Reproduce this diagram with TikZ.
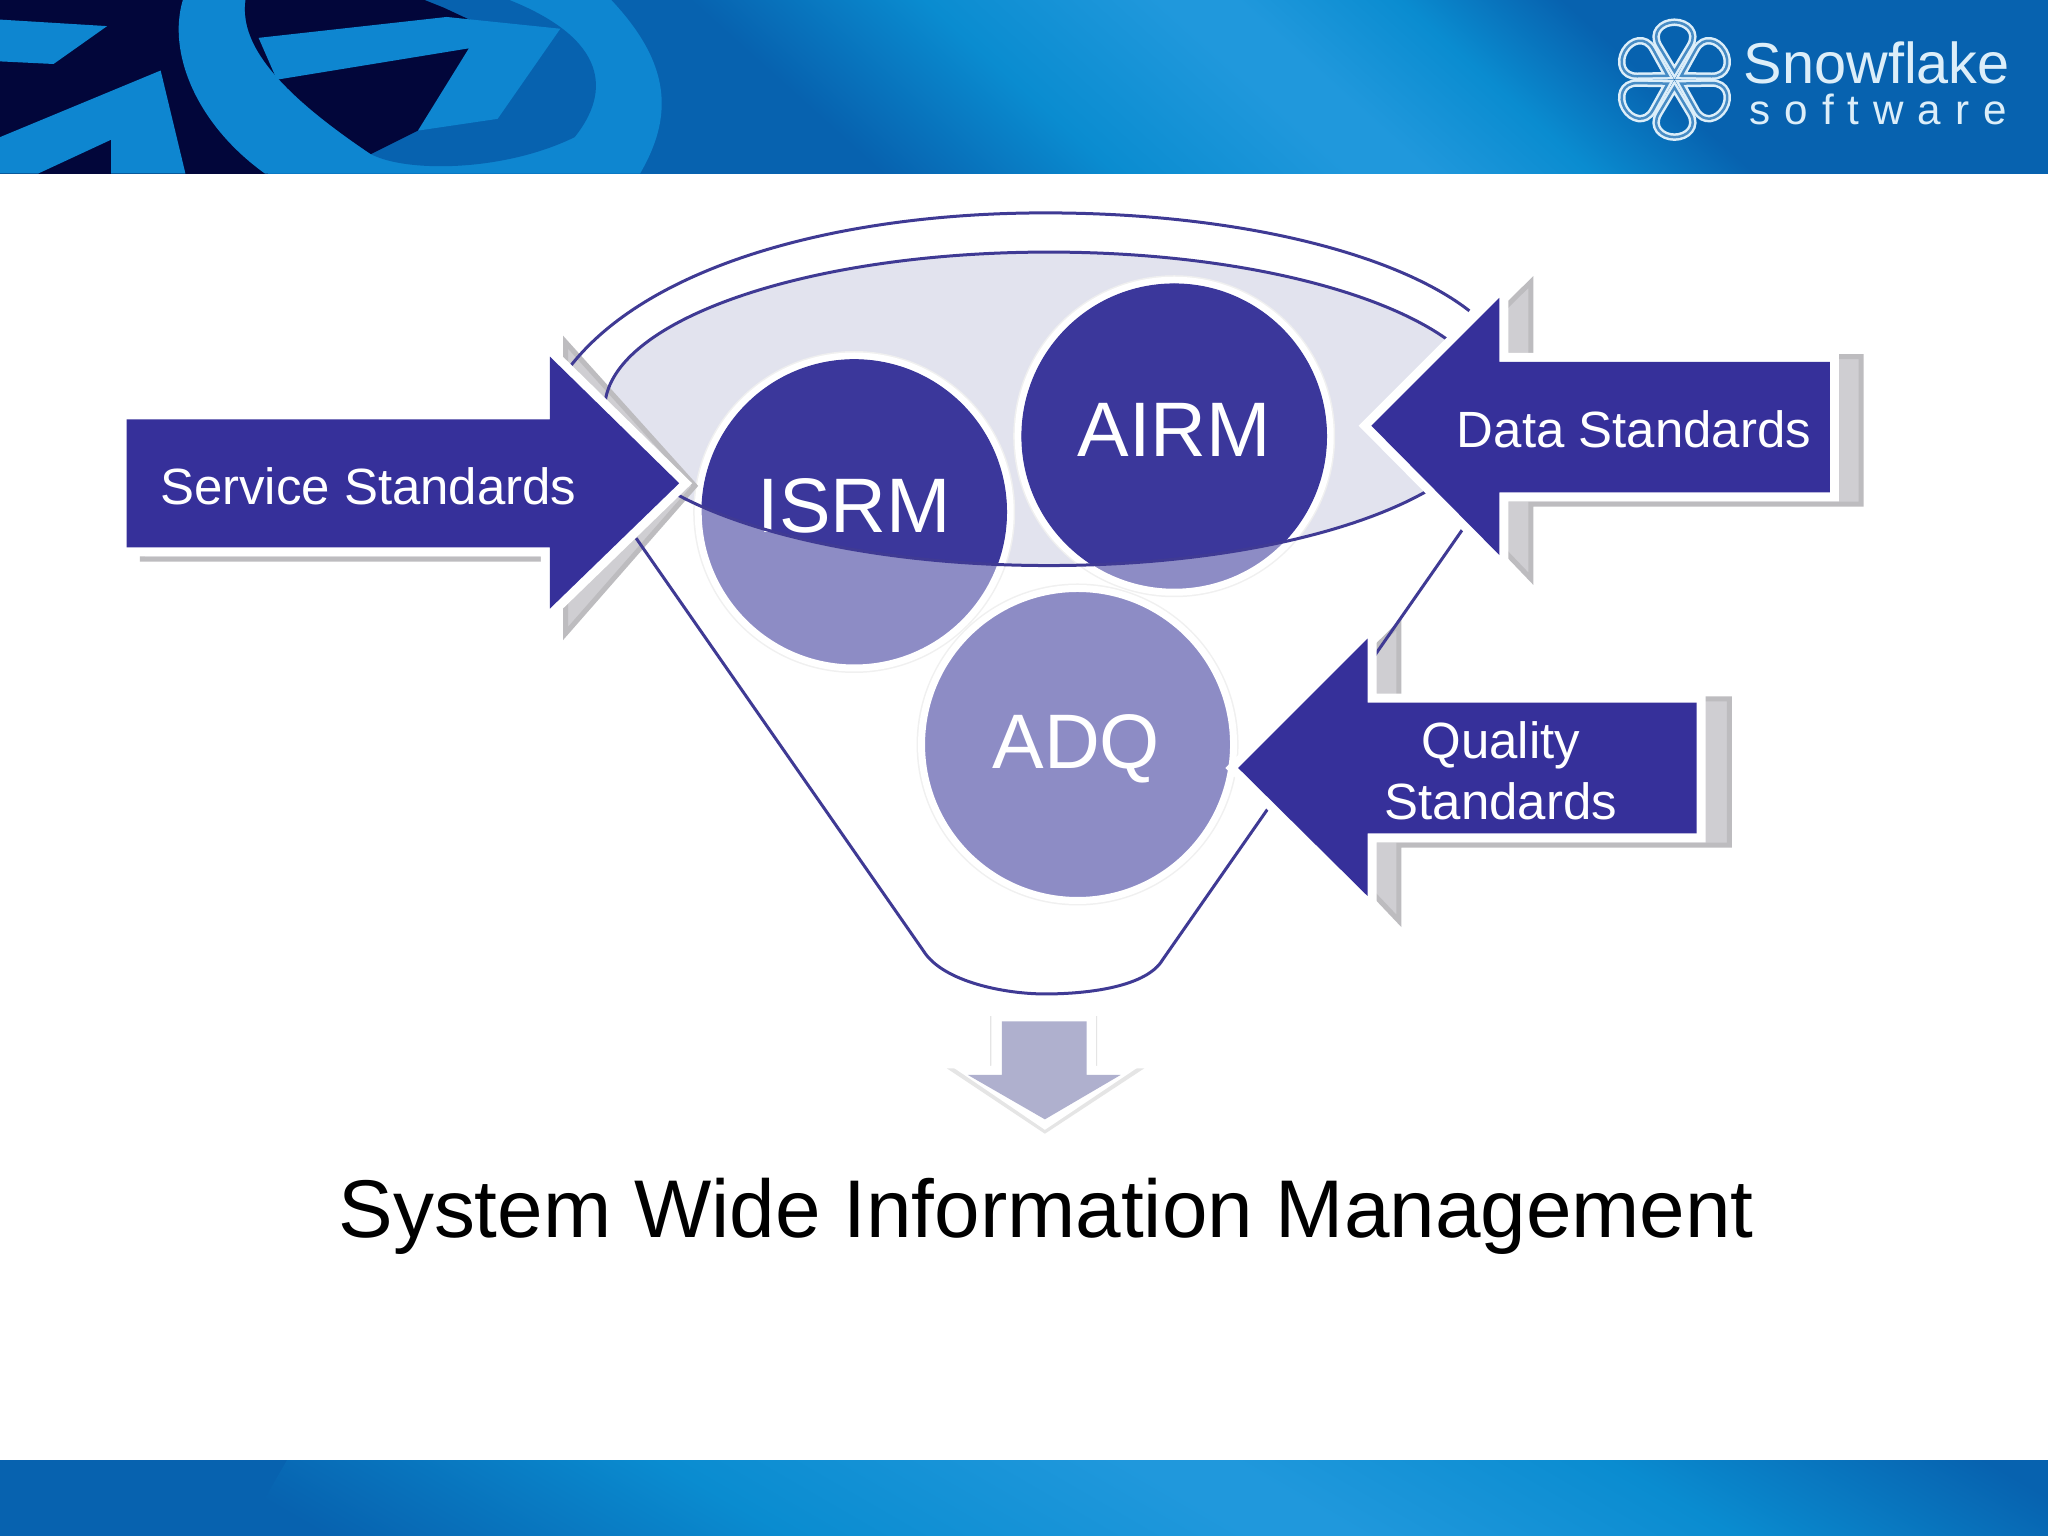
\documentclass[tikz,border=0pt]{standalone}
\usepackage{fontspec}
\setmainfont{Liberation Sans}
\newfontfamily\softfont[LetterSpace=33]{Liberation Sans}
\usetikzlibrary{positioning,calc}
\definecolor{stdblue}{HTML}{36309A}
\definecolor{discdark}{HTML}{3B379B}
\definecolor{disclight}{HTML}{8D8CC5}
\definecolor{funnelfill}{HTML}{E2E3EE}
\definecolor{funnelline}{HTML}{3F3A94}
\definecolor{shadowfill}{HTML}{CFCED2}
\definecolor{shadowline}{HTML}{BDBCBF}
\definecolor{barlight}{HTML}{0E86D0}
\definecolor{barmid}{HTML}{0A8CD0}
\definecolor{barband}{HTML}{2098DC}
\definecolor{bardark}{HTML}{0762AF}
\definecolor{barnavy}{HTML}{02063A}
\definecolor{logowhite}{HTML}{DCEEF9}
\tikzset{
	every node/.style = {
		font = \rmfamily
	}
}

\begin{document}
\begin{tikzpicture}[
	x = 0.013061cm,
	y = -0.013061cm,
	stdarrow/.style = {
		fill = stdblue,
		preaction = {
			draw = white,
			line width = 1.8mm
		}
	},
	stdshadow/.style = {
		fill = shadowfill,
		draw = shadowline,
		line width = 0.5mm
	},
	stdlabel/.style = {
		text = white,
		align = center,
		font = \fontsize{14.5}{17.2}\selectfont
	},
	disc/.style = {
		circle,
		fill = disclight,
		draw = white,
		line width = 0.7mm,
		minimum size = 31.2mm,
		inner sep = 0pt,
		preaction = {
			draw = black!6,
			line width = 1mm
		}
	},
	disclabel/.style = {
		text = white,
		font = \fontsize{22}{26}\selectfont
	},
	funnel/.style = {
		draw = funnelline,
		line width = 0.3mm
	},
	petal/.style = {
		draw = logowhite,
		double = bardark!70!logowhite,
		line width = 0.25mm,
		double distance = 0.25mm
	},
	logotext/.style = {
		text = logowhite,
		inner sep = 0pt
	}
	]
	
	\useasboundingbox (0,0) rectangle (1568,1176);
	\fill[white] (0,0) rectangle (1568,1176);
	
	\begin{scope}
		\clip (0,0) rectangle (1568,133);
		\fill[bardark] (0,0) rectangle (1568,133);
		\shade[left color = bardark, right color = barband, middle color = barmid, transform canvas = {rotate around = {48:(990,66)}}] (730,-700) rectangle (971,800);
		\fill[barband, transform canvas = {rotate around = {48:(990,66)}}] (970,-700) rectangle (1011,800);
		\shade[left color = barband, right color = bardark, middle color = barmid, transform canvas = {rotate around = {48:(990,66)}}] (1010,-700) rectangle (1177,800);
	\end{scope}
	\begin{scope}
		\clip (0,1118) rectangle (1568,1176);
		\fill[bardark] (0,1118) rectangle (1568,1176);
		\shade[left color = bardark, right color = barband, middle color = barmid, transform canvas = {rotate around = {60:(950,1147)}}] (575,500) rectangle (931,1800);
		\fill[barband, transform canvas = {rotate around = {60:(950,1147)}}] (930,500) rectangle (971,1800);
		\shade[left color = barband, right color = bardark, middle color = barmid, transform canvas = {rotate around = {60:(950,1147)}}] (970,500) rectangle (1260,1800);
	\end{scope}
	
	\fill[barnavy] (0,0) rectangle (205,133);
	\fill[barlight] (0,15) -- (82,20) -- (41,49) -- (0,47) -- cycle;
	\fill[barlight] (0,105) -- (123,54) -- (142,133) -- (85,133) -- (85,107) -- (29,133) -- (0,133) -- cycle;
	\fill[barlight] (140,0) .. controls (128,40) and (150,95) .. (203,133) -- (490,133) .. controls (515,90) and (515,50) .. (468,0) -- cycle;
	\fill[bardark] (188,0) .. controls (184,30) and (205,65) .. (284,118) .. controls (310,132) and (385,132) .. (440,105) .. controls (468,70) and (465,30) .. (390,0) -- cycle;
	\fill[barnavy] (188,0) .. controls (184,30) and (205,65) .. (284,118) -- (330,95) -- (370,20) -- (340,6) -- (325,0) -- cycle;
	\fill[barlight] (198,29) -- (342,13) -- (429,22) -- (381,91) -- (320,100) -- (359,37) -- (212,61) -- cycle;
	
	\foreach \ang in {30,90,150,210,270,330} {
		\draw[petal, shift = {(1282,61)}, rotate = \ang] (6,0) -- (26,-12) .. controls (36,-18) and (44,-10) .. (44,0) .. controls (44,10) and (36,18) .. (26,12) -- cycle;
	}
	\node[logotext, font = \fontsize{16.4}{19}\selectfont] (snowflake) at (1437,48) {Snowflake};
	\node[logotext, font = \softfont\fontsize{12}{14}\selectfont] (software) at (1438,84) {software};
	
	\coordinate (top) at (803,313);
	\fill[funnelfill] (top) ellipse [x radius = 340, y radius = 120];
	
	\node[disc] (isrm) at (654,392) {};
	\node[disc] (airm) at (899,334) {};
	\node[disc] (adq) at (825,570) {};
	
	\begin{scope}
		\clip (top) ellipse [x radius = 340, y radius = 120];
		\fill[discdark] (isrm) circle (117);
		\fill[discdark] (airm) circle (117);
	\end{scope}
	
	\node[disclabel] at (654,387) {ISRM};
	\node[disclabel] at (899,329) {AIRM};
	\node[disclabel] at (824,573) {ADQ};
	
	\draw[stdshadow] (109,330) -- (433,330) -- (433,262) -- (532,372) -- (433,485) -- (433,428) -- (109,428) -- cycle;
	\draw[stdshadow] (1425,273) -- (1172,273) -- (1172,216) -- (1060,326) -- (1172,443) -- (1172,386) -- (1425,386) -- cycle;
	\draw[stdshadow] (1324,535) -- (1071,535) -- (1071,478) -- (960,588) -- (1071,705) -- (1071,647) -- (1324,647) -- cycle;
	
	\draw[funnel] (top) ellipse [x radius = 340, y radius = 120];
	\draw[funnel] (437,280) .. controls (500,200) and (650,163) .. (800,163) .. controls (950,163) and (1070,195) .. (1125,238);
	\draw[funnel] (487,412) -- (707,728) .. controls (722,752) and (770,761) .. (800,761) .. controls (835,761) and (878,755) .. (890,735) -- (1120,405);
	
	\fill[stdarrow] (97,321) -- (421,321) -- (421,273) -- (520,370) -- (421,466) -- (421,419) -- (97,419) -- cycle;
	\fill[stdarrow] (1401,277) -- (1148,277) -- (1148,228) -- (1050,326) -- (1148,425) -- (1148,377) -- (1401,377) -- cycle;
	\fill[stdarrow] (1299,538) -- (1047,538) -- (1047,489) -- (948,588) -- (1047,686) -- (1047,638) -- (1299,638) -- cycle;
	
	\node[stdlabel] (service) at (282,372) {Service Standards};
	\node[stdlabel] (data) at (1251,329) {Data Standards};
	\node[stdlabel] (quality) at (1149,590) {Quality\\Standards};
	
	\fill[black!10] (758,778) -- (840,778) -- (840,818) -- (876,818) -- (800,868) -- (725,818) -- (758,818) -- cycle;
	\fill[white] (759,778) -- (839,778) -- (839,816) -- (873,816) -- (800,865) -- (728,816) -- (759,816) -- cycle;
	\fill[fill = {rgb,255:red,175;green,176;blue,206}] (767,782) -- (832,782) -- (832,823) -- (858,823) -- (800,857) -- (741,823) -- (767,823) -- cycle;
	
	\node[text = black, font = \fontsize{23.3}{28}\selectfont] (swim) at (801,931) {System Wide Information Management};
	
\end{tikzpicture}
\end{document}
